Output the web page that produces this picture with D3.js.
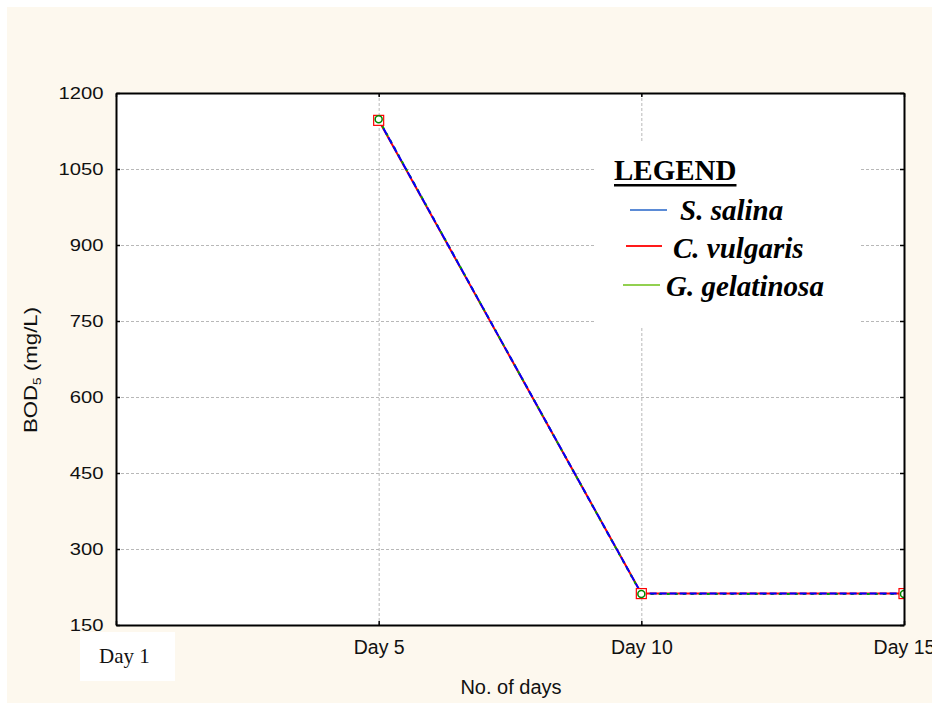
<!DOCTYPE html>
<html><head><meta charset="utf-8">
<script src="https://cdn.jsdelivr.net/npm/d3@7"></script>
<style>
  body { margin: 0; background: #fff; }
  svg { display: block; }
</style>
</head><body>
<svg id="chart" width="932" height="703"></svg>
<script>
// Sampling days and BOD5 readings (mg/L) for each alga
const days = ["Day 1", "Day 5", "Day 10", "Day 15"];
const yTicks = [150, 300, 450, 600, 750, 900, 1050, 1200];
const sSalina = [null, 1147, 212, 212];
const cVulgaris = [null, 1146, 212, 212];
const gGelatinosa = [null, 1148, 211, 211];
const seriesNames = ["S. salina", "C. vulgaris", "G. gelatinosa"];
const lineColors = ["#0000ff", "#ff0000", "#00a000"];
const legendColors = ["#5b8bd6", "#ff1a1a", "#92d050"];

const W = 932, H = 703;
const m = { left: 116, top: 93, right: 28, bottom: 78 };
const pw = W - m.left - m.right, ph = H - m.top - m.bottom;

const svg = d3.select("#chart");

// page background
svg.append("rect").attr("x", 7).attr("y", 7).attr("width", W - 7).attr("height", H - 7)
  .attr("fill", "#fdf8ee");

const g = svg.append("g").attr("transform", `translate(${m.left},${m.top})`);

const x = d3.scalePoint().domain(days).range([0, pw]).padding(0);
const y = d3.scaleLinear().domain([150, 1200]).range([ph, 0]);

// plot area
g.append("rect").attr("width", pw).attr("height", ph).attr("fill", "#fff");

// grid
const grid = g.append("g").attr("stroke", "#b8b8b8").attr("stroke-width", 1)
  .attr("stroke-dasharray", "3,2");
grid.selectAll("line.h").data(yTicks.slice(1, -1)).join("line")
  .attr("x1", 0).attr("x2", pw).attr("y1", d => y(d) + 0.5).attr("y2", d => y(d) + 0.5);
grid.selectAll("line.v").data(days.slice(1, -1)).join("line")
  .attr("y1", 0).attr("y2", ph).attr("x1", d => x(d) + 0.5).attr("x2", d => x(d) + 0.5);

// clip for the data
svg.append("defs").append("clipPath").attr("id", "plotClip")
  .append("rect").attr("width", pw).attr("height", ph);
const data = g.append("g").attr("clip-path", "url(#plotClip)");

const series = [sSalina, cVulgaris, gGelatinosa];
const line = d3.line().defined(d => d != null).x((d, i) => x(days[i])).y(d => y(d));

// red solid, green dashed, blue dashed on top
const drawOrder = [1, 2, 0];
const dashes = { 0: "7,3", 1: null, 2: "3,5" };
drawOrder.forEach(k => {
  data.append("path").datum(series[k])
    .attr("fill", "none").attr("stroke", lineColors[k]).attr("stroke-width", 2)
    .attr("stroke-dasharray", dashes[k])
    .attr("d", line);
});

// markers
const pts = (arr) => arr.map((v, i) => ({ v, day: days[i] })).filter(d => d.v != null);
data.selectAll("rect.mk").data(pts(cVulgaris)).join("rect")
  .attr("x", d => x(d.day) - 5).attr("y", d => y(d.v) - 5)
  .attr("width", 10).attr("height", 10)
  .attr("fill", "#fff").attr("stroke", lineColors[1]).attr("stroke-width", 1.2);
data.selectAll("circle.mk").data(pts(gGelatinosa)).join("circle")
  .attr("cx", d => x(d.day)).attr("cy", d => y(d.v)).attr("r", 3.5)
  .attr("fill", "none").attr("stroke", "#008a00").attr("stroke-width", 1.5);

// axes frame
const axisStyle = sel => {
  sel.select(".domain").attr("stroke", "#000").attr("stroke-width", 2);
  sel.selectAll(".tick line").attr("stroke", "#000").attr("stroke-width", 1.5);
};

const yAxis = g.append("g")
  .call(d3.axisLeft(y).tickValues(yTicks).tickFormat(d3.format("d"))
    .tickSizeInner(-4).tickSizeOuter(0).tickPadding(0))
  .call(axisStyle);
yAxis.selectAll(".tick text")
  .attr("x", -10.5).attr("dy", "0.35em")
  .attr("transform", "scale(1.19,1)")
  .attr("font-family", "Liberation Sans, Arial, sans-serif").attr("font-size", 17)
  .attr("fill", "#111");

g.append("g").attr("transform", `translate(${pw},0)`)
  .call(d3.axisRight(y).tickValues(yTicks).tickSizeInner(-4).tickSizeOuter(0).tickFormat(""))
  .call(axisStyle);

const xAxis = g.append("g").attr("transform", `translate(0,${ph})`)
  .call(d3.axisBottom(x).tickSizeInner(-4).tickSizeOuter(0).tickPadding(0)
    .tickFormat((d, i) => i === 0 ? "" : d))
  .call(axisStyle);
xAxis.selectAll(".tick text")
  .attr("y", 29).attr("dy", 0)
  .attr("font-family", "Liberation Sans, Arial, sans-serif").attr("font-size", 19.5)
  .attr("fill", "#111");

g.append("g")
  .call(d3.axisTop(x).tickSizeInner(-4).tickSizeOuter(0).tickFormat(""))
  .call(axisStyle);

// first day label in its own box
svg.append("rect").attr("x", 80).attr("y", 632).attr("width", 95).attr("height", 49).attr("fill", "#fff");
svg.append("text").attr("x", 99).attr("y", 663)
  .attr("font-family", "Liberation Serif, Times New Roman, serif").attr("font-size", 21)
  .attr("fill", "#111").text(days[0]);

// axis titles
svg.append("text").attr("x", 511).attr("y", 694).attr("text-anchor", "middle")
  .attr("font-family", "Liberation Sans, Arial, sans-serif").attr("font-size", 20)
  .attr("fill", "#111").text("No. of days");

const yt = svg.append("text")
  .attr("transform", "translate(37,370) rotate(-90) scale(1.2,1)")
  .attr("text-anchor", "middle")
  .attr("font-family", "Liberation Sans, Arial, sans-serif").attr("font-size", 18.5)
  .attr("fill", "#111");
yt.append("tspan").text("BOD");
yt.append("tspan").attr("font-size", 11.5).attr("dy", 4).text("5");
yt.append("tspan").attr("dy", -4).text(" (mg/L)");

// legend
const lg = svg.append("g");
lg.append("rect").attr("x", 595).attr("y", 142).attr("width", 265).attr("height", 184).attr("fill", "#fff");
const title = lg.append("text").attr("x", 614).attr("y", 180)
  .attr("font-family", "Liberation Serif, Times New Roman, serif").attr("font-weight", "bold")
  .attr("font-size", 29).attr("fill", "#000").text("LEGEND");
const tw = title.node().getComputedTextLength();
lg.append("rect").attr("x", 614).attr("y", 184).attr("width", tw).attr("height", 2.5).attr("fill", "#000");

const legendRows = [
  { x1: 630, x2: 667, ly: 210, tx: 680, ty: 220 },
  { x1: 626, x2: 662, ly: 246, tx: 673, ty: 258 },
  { x1: 623, x2: 660, ly: 285, tx: 666, ty: 296 }
];
seriesNames.forEach((name, i) => {
  const r = legendRows[i];
  lg.append("line").attr("x1", r.x1).attr("x2", r.x2).attr("y1", r.ly).attr("y2", r.ly)
    .attr("stroke", legendColors[i]).attr("stroke-width", 2);
  lg.append("text").attr("x", r.tx).attr("y", r.ty)
    .attr("font-family", "Liberation Serif, Times New Roman, serif").attr("font-weight", "bold")
    .attr("font-style", "italic").attr("font-size", 29).attr("fill", "#000").text(name);
});
</script>
</body></html>
